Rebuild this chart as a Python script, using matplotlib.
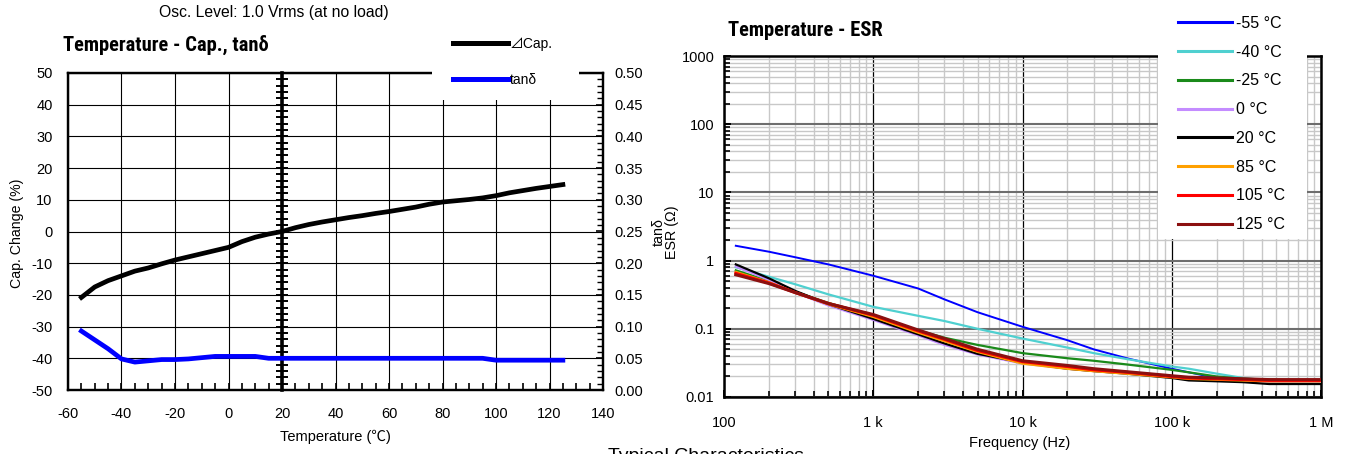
import matplotlib
matplotlib.use("Agg")
import matplotlib.pyplot as plt
from matplotlib import font_manager as fm
from matplotlib.lines import Line2D
from matplotlib.patches import Rectangle
from matplotlib.ticker import (MultipleLocator, FixedLocator, FixedFormatter,
                               LogLocator, FuncFormatter, NullFormatter)

# ---------------- data: left chart ----------------
temps = [-55, -50, -45, -40, -35, -30, -25, -20, -15, -10, -5, 0, 5, 10, 15, 20,
         25, 30, 35, 40, 45, 50, 55, 60, 65, 70, 75, 80, 85, 90, 95, 100, 105,
         110, 115, 120, 125]
cap_change = [-20.8, -17.5, -15.5, -14.0, -12.5, -11.5, -10.2, -9.0, -8.0, -7.0,
              -6.0, -5.0, -3.2, -1.8, -0.8, 0.0, 1.2, 2.2, 3.0, 3.7, 4.4, 5.0,
              5.7, 6.3, 7.0, 7.7, 8.6, 9.3, 9.7, 10.1, 10.6, 11.3, 12.2, 12.9,
              13.6, 14.2, 14.8]
tan_delta = [0.093, 0.079, 0.065, 0.049, 0.044, 0.046, 0.048, 0.048, 0.049, 0.051,
             0.053, 0.053, 0.053, 0.053, 0.050, 0.050, 0.050, 0.050, 0.050, 0.050,
             0.050, 0.050, 0.050, 0.050, 0.050, 0.050, 0.050, 0.050, 0.050, 0.050,
             0.050, 0.047, 0.047, 0.047, 0.047, 0.047, 0.047]

# ---------------- data: right chart ----------------
freq_hz = [120, 200, 300, 500, 1e3, 2e3, 3e3, 5e3, 1e4, 2e4, 3e4, 5e4, 1e5,
           1.3e5, 2e5, 3e5, 4.5e5, 1e6]
esr_m55 = [1.65, 1.35, 1.12, 0.88, 0.60, 0.39, 0.27, 0.175, 0.107, 0.068, 0.050,
           0.037, 0.026, 0.023, 0.019, 0.0175, 0.016, 0.0155]
esr_m40 = [0.80, 0.58, 0.45, 0.32, 0.21, 0.155, 0.13, 0.100, 0.072, 0.053, 0.044,
           0.036, 0.028, 0.026, 0.022, 0.019, 0.0175, 0.017]
esr_m25 = [0.72, 0.50, 0.35, 0.24, 0.155, 0.095, 0.074, 0.058, 0.044, 0.037, 0.034,
           0.030, 0.025, 0.023, 0.020, 0.0185, 0.018, 0.017]
esr_0 = [0.82, 0.52, 0.34, 0.22, 0.135, 0.080, 0.058, 0.042, 0.031, 0.026, 0.024,
         0.022, 0.0195, 0.018, 0.0175, 0.017, 0.0165, 0.0165]
esr_20 = [0.88, 0.55, 0.36, 0.23, 0.140, 0.083, 0.061, 0.043, 0.032, 0.026, 0.024,
          0.022, 0.019, 0.0175, 0.017, 0.0165, 0.0155, 0.0155]
esr_85 = [0.68, 0.48, 0.34, 0.23, 0.150, 0.088, 0.066, 0.046, 0.031, 0.026, 0.024,
          0.022, 0.0195, 0.0185, 0.018, 0.0175, 0.017, 0.017]
esr_105 = [0.65, 0.47, 0.34, 0.235, 0.158, 0.093, 0.070, 0.048, 0.033, 0.028, 0.025,
           0.023, 0.020, 0.019, 0.0185, 0.018, 0.0175, 0.0175]
esr_125 = [0.62, 0.46, 0.34, 0.235, 0.162, 0.096, 0.072, 0.050, 0.034, 0.029, 0.026,
           0.0235, 0.0205, 0.0195, 0.019, 0.0185, 0.018, 0.018]
esr_labels = ["-55 °C", "-40 °C", "-25 °C", "0 °C", "20 °C", "85 °C", "105 °C", "125 °C"]
esr_series = [esr_m55, esr_m40, esr_m25, esr_0, esr_20, esr_85, esr_105, esr_125]
esr_colors = ["#0000ff", "#4fd0d0", "#1a8a1a", "#c48cff", "#000000", "#ffa000",
              "#ff0000", "#8b1010"]
esr_widths = [1.4, 1.6, 1.6, 1.6, 1.6, 1.8, 2.2, 2.2]
freq_ticks = [1e2, 1e3, 1e4, 1e5, 1e6]
freq_tick_labels = ["100", "1 k", "10 k", "100 k", "1 M"]
esr_ticks = [0.01, 0.1, 1, 10, 100, 1000]
esr_tick_labels = ["0.01", "0.1", "1", "10", "100", "1000"]


def pick(cands):
    for c in cands:
        try:
            fm.findfont(fm.FontProperties(family=c), fallback_to_default=False)
            return c
        except Exception:
            pass
    return "DejaVu Sans"


BASE = pick(["Liberation Sans", "Arial", "DejaVu Sans"])
NARROW = pick(["Liberation Sans Narrow", "Roboto Condensed", "DejaVu Sans Condensed", BASE])
CJK = pick(["Noto Sans CJK JP", "DejaVu Sans"])
plt.rcParams["font.family"] = [BASE, "DejaVu Sans"]
plt.rcParams["axes.unicode_minus"] = False

TICK_FS = 10.5
W, H = 1350, 454
fig = plt.figure(figsize=(W / 100, H / 100), dpi=100)


def fx(px):
    return px / W


def fy(py):
    return 1 - py / H


def axrect(l, t, r, b):
    return [fx(l), fy(b), fx(r) - fx(l), fy(t) - fy(b)]


# ================= left chart =================
ax1 = fig.add_axes(axrect(68, 73, 603, 390))
x_min, x_max = -60, 140
ax1.set_xlim(x_min, x_max)
ax1.set_ylim(-50, 50)
ax1.xaxis.set_major_locator(MultipleLocator(20))
ax1.xaxis.set_minor_locator(MultipleLocator(5))
ax1.yaxis.set_major_locator(MultipleLocator(10))
ax1.grid(True, which="major", color="black", lw=0.8)
ax1.set_axisbelow(True)
cap_line, = ax1.plot(temps, cap_change, color="black", lw=3.4, zorder=3)
for s in ax1.spines.values():
    s.set_linewidth(1.6)
ax1.tick_params(axis="y", which="both", length=0, pad=11, labelsize=TICK_FS)
ax1.tick_params(axis="x", which="major", direction="in", length=5, width=1.2,
                pad=12.5, labelsize=TICK_FS)
ax1.tick_params(axis="x", which="minor", direction="in", length=5, width=1.2)

# central reference axis at 20 C
mid_temp = 20
sec = ax1.secondary_yaxis((mid_temp - x_min) / (x_max - x_min))
sec.spines["left"].set_linewidth(2.6)
sec.yaxis.set_major_locator(MultipleLocator(2))
sec.tick_params(axis="y", which="major", direction="inout", length=8, width=1.4,
                labelleft=False)

ax2 = ax1.twinx()
ax2.set_ylim(0, 0.5)
ax2.yaxis.set_major_locator(MultipleLocator(0.05))
ax2.yaxis.set_minor_locator(MultipleLocator(0.01))
ax2.yaxis.set_major_formatter(FuncFormatter(lambda v, p: f"{v:.2f}"))
ax2.tick_params(axis="y", which="major", direction="in", length=5, width=1.2,
                pad=8, labelsize=TICK_FS)
ax2.tick_params(axis="y", which="minor", direction="in", length=4, width=1.0)
tan_line, = ax2.plot(temps, tan_delta, color="#0000ff", lw=3.4, zorder=3)
for s in ax2.spines.values():
    s.set_linewidth(1.6)

fig.text(fx(17), fy(233), "Cap. Change (%)", rotation=90, ha="center", va="center",
         fontsize=10.2)
fig.text(fx(335), fy(437), "Temperature (℃)", ha="center", va="center", fontsize=10.5,
         family=[BASE, CJK])
fig.text(fx(274), fy(12), "Osc. Level: 1.0 Vrms (at no load)", ha="center",
         va="center", fontsize=11.3)
fig.text(fx(63), fy(45), "Temperature - Cap., tanδ", ha="left", va="center",
         fontsize=14.8, fontweight="bold", family=[NARROW, "DejaVu Sans"])

# legend background and legend
fig.patches.append(Rectangle((fx(432), fy(100)), fx(579) - fx(432), fy(28) - fy(100),
                             transform=fig.transFigure, facecolor="white",
                             edgecolor="none", zorder=4))
fig.legend([Line2D([], [], color="black", lw=3.6), Line2D([], [], color="#0000ff", lw=3.6)],
           ["⊿Cap.", "tanδ"], loc="upper left", bbox_to_anchor=(fx(453), fy(37)),
           frameon=False, borderpad=0, borderaxespad=0, handlelength=3.95,
           handletextpad=0.15, labelspacing=1.55,
           prop={"family": [BASE, CJK], "size": 10})

# ================= right chart =================
ax3 = fig.add_axes(axrect(724, 56, 1321, 397))
ax3.set_xscale("log")
ax3.set_yscale("log")
ax3.set_xlim(freq_ticks[0], freq_ticks[-1])
ax3.set_ylim(esr_ticks[0], esr_ticks[-1])
ax3.xaxis.set_major_locator(FixedLocator(freq_ticks))
ax3.xaxis.set_major_formatter(FixedFormatter(freq_tick_labels))
ax3.yaxis.set_major_locator(FixedLocator(esr_ticks))
ax3.yaxis.set_major_formatter(FixedFormatter(esr_tick_labels))
ax3.xaxis.set_minor_locator(LogLocator(base=10, subs=range(2, 10), numticks=50))
ax3.yaxis.set_minor_locator(LogLocator(base=10, subs=range(2, 10), numticks=50))
ax3.xaxis.set_minor_formatter(NullFormatter())
ax3.yaxis.set_minor_formatter(NullFormatter())
ax3.grid(True, which="minor", color="#c8c8c8", lw=1.0)
ax3.xaxis.grid(True, which="major", color="black", lw=0.9)
ax3.yaxis.grid(True, which="major", color="#6e6e6e", lw=1.5)
ax3.set_axisbelow(True)
for s in ax3.spines.values():
    s.set_linewidth(1.8)
ax3.tick_params(axis="both", which="major", direction="in", length=5, width=1.4,
                labelsize=TICK_FS)
ax3.tick_params(axis="both", which="minor", direction="in", length=4, width=1.2)
ax3.tick_params(axis="x", which="major", pad=14)
ax3.tick_params(axis="y", which="major", pad=7)

handles = []
for vals, col, lw in zip(esr_series, esr_colors, esr_widths):
    ln, = ax3.plot(freq_hz, vals, color=col, lw=lw, zorder=3)
    handles.append(Line2D([], [], color=col, lw=2.2))

fig.text(fx(1020), fy(443), "Frequency (Hz)", ha="center", va="center", fontsize=10.5)
fig.text(fx(728), fy(30), "Temperature - ESR", ha="left", va="center",
         fontsize=14.8, fontweight="bold", family=[NARROW, "DejaVu Sans"])
fig.text(fx(665), fy(232), "tanδ\nESR (Ω)", rotation=90, ha="center", va="center",
         multialignment="center", fontsize=10.3, linespacing=0.95,
         family=[BASE, "DejaVu Sans"])

fig.patches.append(Rectangle((fx(1158), fy(239)), fx(1307) - fx(1158), fy(0) - fy(239),
                             transform=fig.transFigure, facecolor="white",
                             edgecolor="none", zorder=4))
fig.legend(handles, esr_labels, loc="upper left", bbox_to_anchor=(fx(1178), fy(16)),
           frameon=False, borderpad=0, borderaxespad=0, handlelength=3.4,
           handletextpad=0.2, labelspacing=0.86,
           prop={"family": [BASE, "DejaVu Sans"], "size": 11.5})

fig.text(fx(608), fy(448), "Typical Characteristics", ha="left", va="top",
         fontsize=14)

fig.savefig("out.png", dpi=100)
